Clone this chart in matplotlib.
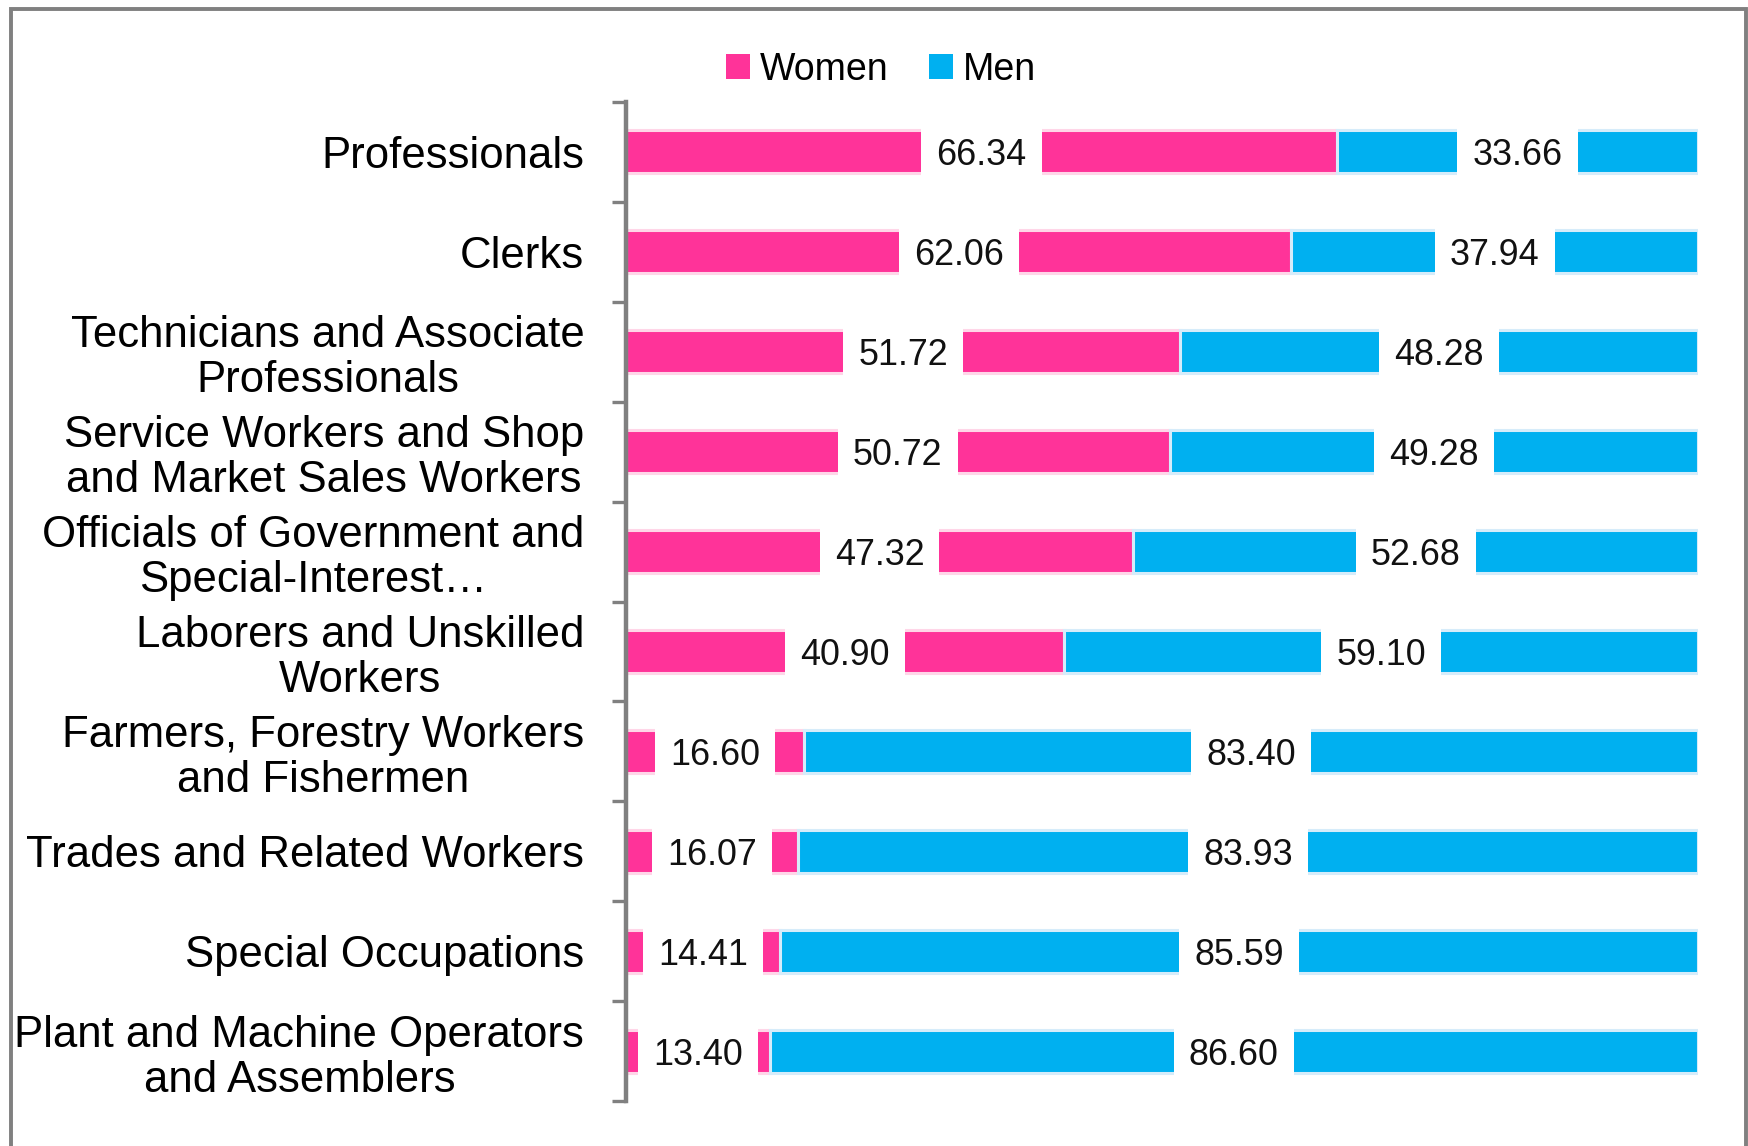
import matplotlib
matplotlib.use("Agg")
import matplotlib.pyplot as plt
from matplotlib.patches import Patch, Rectangle
import numpy as np

plt.rcParams['font.family'] = ['Liberation Sans', 'DejaVu Sans']

categories = [
    "Professionals",
    "Clerks",
    "Technicians and Associate\nProfessionals",
    "Service Workers and Shop\nand Market Sales Workers",
    "Officials of Government and\nSpecial-Interest\u2026",
    "Laborers and Unskilled\nWorkers",
    "Farmers, Forestry Workers\nand Fishermen",
    "Trades and Related Workers",
    "Special Occupations",
    "Plant and Machine Operators\nand Assemblers",
]
women = [66.34, 62.06, 51.72, 50.72, 47.32, 40.90, 16.60, 16.07, 14.41, 13.40]
men = [33.66, 37.94, 48.28, 49.28, 52.68, 59.10, 83.40, 83.93, 85.59, 86.60]
series_names = ["Women", "Men"]

PINK = "#FF3399"
BLUE = "#00B0F0"
PINK_EDGE = "#FFD6E8"
BLUE_EDGE = "#D6ECFA"
GRAY = "#808080"

W, H = 1748, 1146
fig = plt.figure(figsize=(W / 100, H / 100), dpi=100)

ax = fig.add_axes([626 / W, 1 - 1101 / H, (1698 - 626) / W, (1101 - 102) / H])

y = np.arange(len(categories))
women_a = np.array(women)
men_a = np.array(men)

ax.barh(y, women_a, height=0.43, color=PINK, edgecolor=PINK_EDGE, linewidth=2.2, zorder=2)
ax.barh(y, men_a, left=women_a, height=0.43, color=BLUE, edgecolor=BLUE_EDGE, linewidth=2.2, zorder=2)

for i in range(len(categories)):
    ax.text(women_a[i] / 2, y[i], f"{women[i]:.2f}", ha="center", va="center_baseline",
            fontsize=25.8, color="#111111", zorder=5,
            bbox=dict(boxstyle="square,pad=0.42", facecolor="white", edgecolor="none"))
    ax.text(women_a[i] + men_a[i] / 2, y[i], f"{men[i]:.2f}", ha="center", va="center_baseline",
            fontsize=25.8, color="#111111", zorder=5,
            bbox=dict(boxstyle="square,pad=0.42", facecolor="white", edgecolor="none"))

ax.set_xlim(0, 100)
ax.set_ylim(len(categories) - 0.5, -0.5)
ax.set_xticks([])
ax.set_yticks(y)
ax.set_yticklabels(categories, fontsize=31.5, multialignment="center", linespacing=1.13)
ax.tick_params(axis="y", which="major", length=0, pad=30)
ax.set_yticks(np.arange(-0.5, len(categories), 1.0), minor=True)
ax.tick_params(axis="y", which="minor", length=10, width=2.4, color=GRAY)
for s in ["top", "right", "bottom"]:
    ax.spines[s].set_visible(False)
ax.spines["left"].set_color(GRAY)
ax.spines["left"].set_linewidth(3.2)

handles = [Patch(facecolor=PINK, edgecolor="none"), Patch(facecolor=BLUE, edgecolor="none")]
fig.legend(handles, series_names, loc="center", bbox_to_anchor=(881 / W, 1 - 70 / H),
           ncol=2, frameon=False, fontsize=27, handlelength=0.64, handleheight=0.64,
           handletextpad=0.25, columnspacing=1.1)

frame = Rectangle((10.5 / W, -0.1), (1746 - 10.5) / W, 1.1 - 9 / H, transform=fig.transFigure,
                  facecolor="none", edgecolor=GRAY, linewidth=2.8, clip_on=False)
fig.patches.append(frame)

fig.savefig("out.png", dpi=100)
